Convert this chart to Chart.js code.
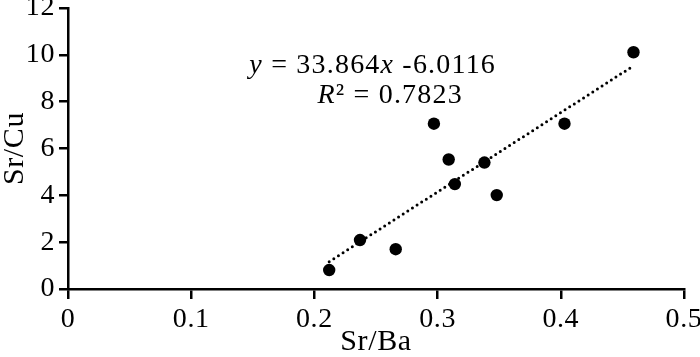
<!DOCTYPE html>
<html>
<head>
<meta charset="utf-8">
<script src="https://cdn.jsdelivr.net/npm/chart.js@4/dist/chart.umd.min.js"></script>
<style>
  html, body { margin: 0; padding: 0; background: #fff; }
  #wrap { width: 700px; height: 357px; }
</style>
</head>
<body>
<div id="wrap"><canvas id="myChart"></canvas></div>
<script>
// data
var srBa = [0.212, 0.237, 0.266, 0.297, 0.309, 0.314, 0.338, 0.348, 0.403, 0.459];
var srCu = [0.81, 2.09, 1.70, 7.06, 5.53, 4.48, 5.40, 4.01, 7.06, 10.11];

// fitted line shown in the chart
var slope = 33.864;
var intercept = -6.0116;
var rSquared = '0.7823';

// where the equation text sits (data units: x centre, baseline y)
var eqPos = [0.2473, 9.21];
var r2Pos = [0.2615, 7.93];

var xMin = Math.min.apply(null, srBa);
var xMax = Math.max.apply(null, srBa);
var trend = [
  { x: xMin, y: slope * xMin + intercept },
  { x: xMax, y: slope * xMax + intercept }
];

var points = srBa.map(function(v, i) { return { x: v, y: srCu[i] }; });

var FONT = "'Liberation Serif', 'Times New Roman', serif";
Chart.defaults.color = '#000';
Chart.defaults.font.family = FONT;

// slight letter spacing like the source figure
var spacing = {
  id: 'spacing',
  beforeLayout: function(chart) { chart.ctx.letterSpacing = '0.6px'; },
  beforeDraw: function(chart) { chart.ctx.letterSpacing = '0.6px'; }
};

function drawParts(ctx, parts, cx, baseY, size) {
  var total = 0;
  parts.forEach(function(p) {
    ctx.font = (p.i ? 'italic ' : '') + size + 'px ' + FONT;
    p.w = ctx.measureText(p.t).width;
    total += p.w;
  });
  var x = cx - total / 2;
  parts.forEach(function(p) {
    ctx.font = (p.i ? 'italic ' : '') + size + 'px ' + FONT;
    ctx.fillText(p.t, x, baseY);
    x += p.w;
  });
}

var equation = {
  id: 'equation',
  afterDraw: function(chart) {
    var ctx = chart.ctx;
    var xs = chart.scales.x, ys = chart.scales.y;
    ctx.save();
    ctx.letterSpacing = '1.2px';
    ctx.fillStyle = '#000';
    ctx.textAlign = 'left';
    ctx.textBaseline = 'alphabetic';
    drawParts(ctx, [
      { t: 'y', i: true },
      { t: ' = ' + slope.toFixed(3) },
      { t: 'x', i: true },
      { t: ' -' + Math.abs(intercept).toFixed(4) }
    ], xs.getPixelForValue(eqPos[0]), ys.getPixelForValue(eqPos[1]), 28);
    drawParts(ctx, [
      { t: 'R', i: true },
      { t: '\u00B2 = ' + rSquared }
    ], xs.getPixelForValue(r2Pos[0]), ys.getPixelForValue(r2Pos[1]), 28);
    ctx.restore();
  }
};

var ctx = document.getElementById('myChart').getContext('2d');
var chart = new Chart(ctx, {
    type: 'scatter',
    data: {
        datasets: [{
            label: 'Sr/Cu',
            data: points,
            backgroundColor: '#000',
            borderColor: '#000',
            pointRadius: 6.2,
            pointHoverRadius: 6.2,
            borderWidth: 0
        }, {
            label: 'trend',
            type: 'line',
            data: trend,
            borderColor: '#000',
            borderWidth: 3,
            borderDash: [0, 5.5],
            borderCapStyle: 'round',
            pointRadius: 0,
            fill: false
        }]
    },
    options: {
        responsive: true,
        maintainAspectRatio: false,
        animation: false,
        layout: { padding: { left: 0, right: 16, top: 8, bottom: 0 } },
        plugins: {
            legend: { display: false },
            tooltip: { enabled: false }
        },
        scales: {
            x: {
                type: 'linear',
                min: 0,
                max: 0.5,
                ticks: {
                    stepSize: 0.1,
                    padding: 4,
                    font: { size: 28 },
                    callback: function(v) { return v === 0 ? '0' : v.toFixed(1); }
                },
                grid: { drawOnChartArea: false, drawTicks: true, tickLength: 10, color: '#000', lineWidth: 2.5 },
                border: { display: true, color: '#000', width: 2.5 },
                title: { display: true, text: 'Sr/Ba', font: { size: 30, lineHeight: 1 }, padding: 0 },
                afterFit: function(s) { s.height = 68; s.paddingLeft = 0; s.paddingRight = 0; }
            },
            y: {
                min: 0,
                max: 12,
                ticks: {
                    stepSize: 2,
                    padding: 4,
                    font: { size: 28 }
                },
                grid: { drawOnChartArea: false, drawTicks: true, tickLength: 9, color: '#000', lineWidth: 2.5 },
                border: { display: true, color: '#000', width: 2.5 },
                title: { display: true, text: 'Sr/Cu', font: { size: 30, lineHeight: 1 }, padding: 0 },
                afterFit: function(s) { s.width = 68; s.paddingTop = 0; s.paddingBottom = 0; }
            }
        }
    },
    plugins: [spacing, equation]
});
</script>
</body>
</html>
